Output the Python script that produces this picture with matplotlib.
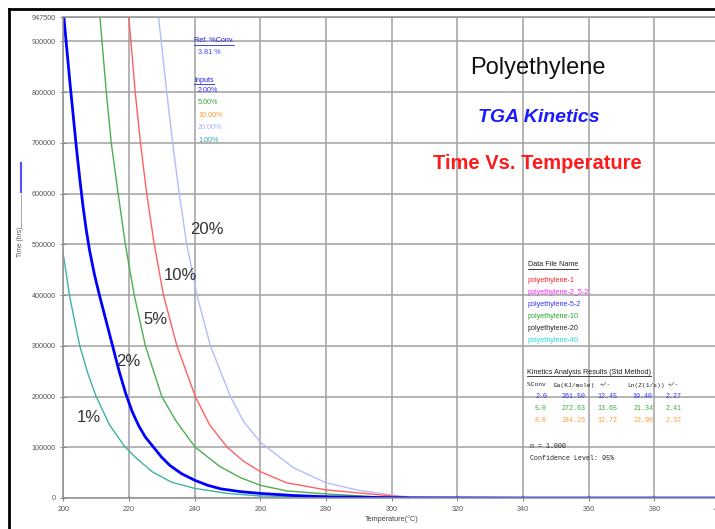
import matplotlib
matplotlib.use("Agg")
import matplotlib.pyplot as plt
from matplotlib.lines import Line2D

plt.rcParams['font.family'] = ['Liberation Sans', 'DejaVu Sans']

W, H = 715, 529

# series: temperature (C) and time (hrs)
t_1 = [200, 202, 205, 207.5, 210, 214, 218.5, 222, 227, 233, 240, 250, 260,
       280, 300]
v_1 = [480000, 395000, 300000, 245000, 200000, 145000, 103000, 80000, 52000,
       31000, 19000, 9000, 4000, 1500, 500]

t_2 = [200, 201, 202, 203, 204, 205, 206, 207, 208, 209.5, 211, 213, 215, 217,
       219, 221, 223, 225, 227.5, 230, 232.5, 236, 240, 244, 248, 254, 260,
       270, 280, 300, 340, 400]
v_2 = [960000, 890000, 820000, 755000, 690000, 630000, 575000, 528000, 488000,
       440000, 400000, 350000, 300000, 250000, 206000, 170000, 142000, 120000,
       100000, 80000, 64000, 48000, 35000, 25000, 18000, 12500, 9000, 5000,
       2500, 600, 0, 0]

t_5 = [211, 213.1, 214.6, 216.7, 218.9, 221.6, 225, 230, 234.5, 240.2, 247.7,
       254, 260, 268, 280, 295, 305]
v_5 = [960000, 800000, 700000, 600000, 500000, 400000, 300000, 200000, 150000,
       100000, 62000, 40000, 25000, 14000, 8000, 2500, 800]

t_10 = [219.8, 221.9, 223.5, 225.4, 227.7, 230.5, 234.6, 240.2, 244.5, 249.9,
        255, 260, 268, 280, 300, 305]
v_10 = [960000, 800000, 700000, 600000, 500000, 400000, 300000, 200000, 145000,
        100000, 72000, 52000, 30000, 16000, 4000, 1000]

t_20 = [228.8, 231.5, 233.3, 235.3, 237.6, 240.7, 244.8, 250.9, 255, 260, 270,
        280, 290, 300, 305]
v_20 = [960000, 800000, 700000, 600000, 500000, 400000, 300000, 200000, 150000,
        110000, 60000, 30000, 15000, 6000, 2000]

x_ticks = [200, 220, 240, 260, 280, 300, 320, 340, 360, 380, 400]
y_ticks = [0, 100000, 200000, 300000, 400000, 500000, 600000, 700000, 800000,
           900000, 947500]

inputs = ["2.00%", "5.00%", "10.00%", "20.00%", "1.00%"]
input_colors = ["#3333ff", "#33aa33", "#ff9933", "#aab0ff", "#33aaaa"]

files = ["polyethylene-1", "polyethylene-2_5-2", "polyethylene-5-2",
         "polyethylene-10", "polyethylene-20", "polyethylene-40"]
file_colors = ["#ff2222", "#ff22ff", "#3333ff", "#22aa22", "#222222", "#22dddd"]

kin_header = ["%Conv", "Ea(KJ/mole)", "+/-", "Ln(Z(1/s))", "+/-"]
kin_rows = [["2.0", "261.50", "12.45", "19.40", "2.27"],
            ["5.0", "272.63", "13.65", "21.34", "2.41"],
            ["8.0", "284.26", "12.72", "22.90", "2.32"]]
kin_colors = ["#3333ff", "#33aa33", "#ff9933"]


def px(x, y):
    return x / W, 1 - y / H


fig = plt.figure(figsize=(W / 100, H / 100), dpi=100)
ax = fig.add_axes([63.3 / W, 31 / H, (720 - 63.3) / W, (498 - 17.3) / H])

ax.plot(t_20, v_20, color="#b4bbff", lw=1.0)
ax.plot(t_10, v_10, color="#ff6060", lw=1.0)
ax.plot(t_5, v_5, color="#4caf50", lw=1.0)
ax.plot(t_1, v_1, color="#40b0a8", lw=1.0)
ax.plot(t_2, v_2, color="#0000ff", lw=2.0)

ax.set_xlim(200, 400)
ax.set_ylim(0, 947500)
ax.set_xticks(x_ticks)
ax.set_yticks(y_ticks)
ax.set_xticklabels([str(v) for v in x_ticks])
ax.set_yticklabels([str(v) for v in y_ticks])
ax.grid(True, color="#a0a0a0", lw=1.1)
ax.tick_params(direction="inout", length=5, color="#888888", labelsize=5.2,
               labelcolor="#555555", pad=3)
for s in ["left", "bottom", "top"]:
    ax.spines[s].set_color("#909090")
    ax.spines[s].set_linewidth(1.1)
ax.spines["right"].set_visible(False)
ax.set_xlabel("Temperature(°C)", fontsize=5.2, color="#444444", labelpad=2)

# titles
fig.text(*px(538, 68), "Polyethylene", fontsize=17, color="#111111",
         ha="center", va="center")
fig.text(*px(539, 118), "TGA Kinetics", fontsize=14, color="#1a1aff",
         weight="bold", style="italic", ha="center", va="center")
fig.text(*px(537, 163), "Time Vs. Temperature", fontsize=14.5, color="#ff1a1a",
         weight="bold", ha="center", va="center")

# curve labels
for lab, x, y in [("20%", 207, 230), ("10%", 180, 275), ("5%", 155, 320),
                  ("2%", 128, 362), ("1%", 89, 418)]:
    fig.text(*px(x, y), lab, fontsize=12, color="#333333",
             ha="center", va="center")

renderer = fig.canvas.get_renderer()


def underlined(x, y, s, color, size=5.2):
    t = fig.text(*px(x, y), s, fontsize=size, color=color, ha="left",
                 va="center")
    bb = t.get_window_extent(renderer=renderer)
    yy = bb.y0 - 0.5
    fig.add_artist(Line2D([bb.x0 / W, bb.x1 / W], [yy / H, yy / H],
                          color=color, lw=0.6))
    return t


# reference / inputs block
underlined(194, 41, "Ref. %Conv.", "#2222dd")
fig.text(*px(198, 53), "3.81 %", fontsize=5.2, color="#4444ff", va="center")
underlined(194, 80, "Inputs", "#2222dd")
for i, (s, c) in enumerate(zip(inputs, input_colors)):
    fig.text(*px(198, 90 + i * 12.6), s, fontsize=5.2, color=c, va="center")

# data files block
underlined(528, 265, "Data File Name", "#222222")
for i, (s, c) in enumerate(zip(files, file_colors)):
    fig.text(*px(528, 280 + i * 12.2), s, fontsize=5.2, color=c, va="center")

# kinetics block
underlined(527, 372, "Kinetics Analysis Results (Std Method)", "#222222")
mono = "Liberation Mono"
for s, x in zip(kin_header, [527, 553, 600, 627, 668]):
    fig.text(*px(x, 385), s, fontsize=4.5, color="#222222", family=mono,
             va="center")
for r, (row, c) in enumerate(zip(kin_rows, kin_colors)):
    for s, x in zip(row, [535, 562, 598, 633, 665]):
        fig.text(*px(x, 396 + r * 12.5), s, fontsize=4.8, color=c, family=mono,
                 va="center")
fig.text(*px(530, 447), "n = 1.000", fontsize=4.8, color="#222222",
         family=mono, va="center")
fig.text(*px(530, 459), "Confidence Level: 95%", fontsize=4.8,
         color="#222222", family=mono, va="center")

# left-side y label with marker lines
fig.add_artist(Line2D([21 / W, 21 / W], [1 - 163 / H, 1 - 192 / H],
                      color="#5050ff", lw=1.5))
fig.add_artist(Line2D([21 / W, 21 / W], [1 - 194 / H, 1 - 227 / H],
                      color="#999999", lw=0.6))
fig.text(*px(21, 242), "Time (hrs)", fontsize=4.8, color="#555555",
         rotation=90, ha="center", va="center")

# outer frame
fig.add_artist(Line2D([9 / W, 9 / W], [0, 1 - 9 / H], color="black", lw=2))
fig.add_artist(Line2D([9 / W, 1], [1 - 9 / H, 1 - 9 / H], color="black", lw=2))

fig.savefig("out.png", dpi=100)
